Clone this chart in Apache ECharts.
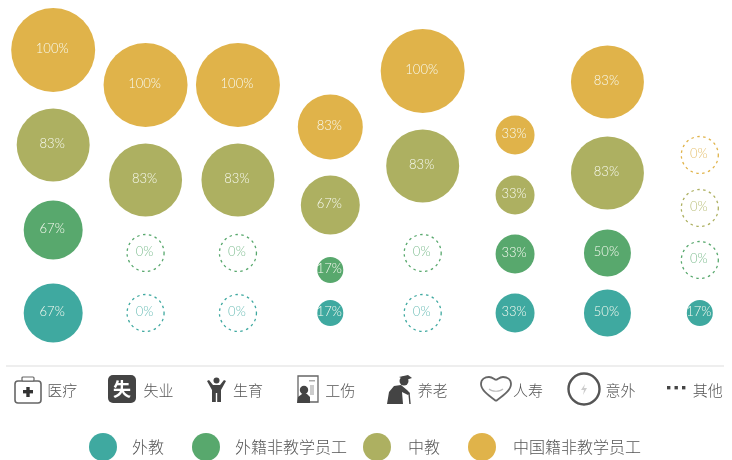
<!DOCTYPE html>
<html>
<head>
<meta charset="utf-8">
<style>html,body{margin:0;padding:0;background:#fff}#c{width:732px;height:460px}</style>
<script src="https://cdn.jsdelivr.net/npm/echarts@6/dist/echarts.min.js"></script>
</head>
<body>
<div id="c"></div>
<script>
// Insurance types
const categories = ['医疗','失业','生育','工伤','养老','人寿','意外','其他'];
// Displayed coverage, percent
const waijiao    = [67, 0, 0, 17, 0, 33, 50, 17];
const waijiFei   = [67, 0, 0, 17, 0, 33, 50, 0];
const zhongjiao  = [83, 83, 83, 67, 83, 33, 83, 0];
const zhongguoFei= [100, 100, 100, 83, 100, 33, 83, 0];
// Bubble magnitude where it differs from the printed label
const zhongguoFeiMagnitude = [100, 100, 100, 75, 100, 33, 83, 0];
// Height of each bubble's centre on the hidden vertical scale
const waijiaoLevel    = [53, 53, 53, 53, 53, 53, 53, 53];
const waijiFeiLevel   = [136, 113, 113, 96, 113, 112, 113, 106];
const zhongjiaoLevel  = [221, 186, 186, 161, 200, 171, 193, 158];
const zhongguoFeiLevel= [316, 281, 281, 239, 295, 231, 284, 211];

const seriesNames = ['外教','外籍非教学员工','中教','中国籍非教学员工'];
const colors = ['#3fa9a0','#58a86d','#adb061','#e0b34a'];
const zeroText = ['#6fbfb8','#82bf93','#bcc07e','#e6c273'];
const sizeOf = {0:37,17:26,33:39,50:47,67:59,75:65,83:73,100:84};

function mk(i, vals, levels, mags) {
  return {
    name: seriesNames[i], type: 'scatter', z: 2 + i,
    symbolSize: d => sizeOf[d[3]],
    data: vals.map((v, k) => {
      const zero = v === 0;
      return {
        value: [categories[k], levels[k], v, mags ? mags[k] : v],
        itemStyle: zero
          ? {color: '#fff', borderColor: colors[i], borderWidth: 1.3, borderType: [2.5, 3.5], opacity: 1}
          : {color: colors[i], opacity: 1},
        label: {color: zero ? zeroText[i] : '#f7faf0'}
      };
    }),
    itemStyle: {color: colors[i], opacity: 1},
    emphasis: {disabled: true},
    label: {
      show: true, position: 'inside', offset: [-1, -1],
      fontFamily: 'Lato', fontSize: 13, fontWeight: 300,
      formatter: p => p.value[2] + '%'
    }
  };
}

const labelShift = [18, 26, 20, 20, 20, 26, 26, 16];
const rich = {};
labelShift.forEach((s, i) => { rich['t' + i] = {padding: [0, 0, 0, s], fontSize: 15, color: '#555', fontFamily: 'Noto Sans CJK SC', fontWeight: 300}; });

const ink = '#444', soft = '#666';
function at(x, y, children) { return {type: 'group', x, y, silent: true, children}; }
function curve(x1,y1,c1x,c1y,c2x,c2y,x2,y2,stroke,lineWidth) {
  return {type:'bezierCurve', shape:{x1,y1,cpx1:c1x,cpy1:c1y,cpx2:c2x,cpy2:c2y,x2,y2}, style:{fill:null,stroke,lineWidth}};
}
const icons = [
  at(14, 376, [
    {type:'rect', shape:{x:1,y:5,width:26,height:22,r:3}, style:{fill:'#fff',stroke:soft,lineWidth:1.6}},
    {type:'rect', shape:{x:8,y:1,width:12,height:4,r:1}, style:{fill:'#fff',stroke:soft,lineWidth:1.2}},
    {type:'rect', shape:{x:9,y:14,width:10,height:3.4}, style:{fill:'#333'}},
    {type:'rect', shape:{x:12.3,y:11,width:3.4,height:10}, style:{fill:'#333'}}
  ]),
  at(108, 375, [
    {type:'rect', shape:{x:0,y:0,width:28,height:28,r:5}, style:{fill:ink}},
    {type:'text', x:14, y:14, style:{text:'失', fill:'#fff', fontSize:18, fontWeight:'bold', fontFamily:'Noto Sans CJK SC', align:'center', verticalAlign:'middle'}}
  ]),
  at(207, 377, [
    {type:'circle', shape:{cx:9.5,cy:3.5,r:3}, style:{fill:ink}},
    {type:'polygon', shape:{points:[[0,4],[2,3],[6,8],[13,8],[17,3],[19,4],[14,13],[14,25],[10.2,25],[10.2,16],[8.8,16],[8.8,25],[5,25],[5,13]]}, style:{fill:ink}}
  ]),
  at(296, 375, [
    {type:'rect', shape:{x:2,y:1,width:20,height:26}, style:{fill:'#fff',stroke:soft,lineWidth:1.3}},
    {type:'rect', shape:{x:13,y:5,width:6,height:1.5}, style:{fill:'#aaa'}},
    {type:'rect', shape:{x:14,y:10,width:4,height:10}, style:{fill:'#ccc'}},
    {type:'circle', shape:{cx:8,cy:15,r:4.2}, style:{fill:ink}},
    {type:'polygon', shape:{points:[[1,28],[2,22],[6,19],[11,19],[14,22],[14,28]]}, style:{fill:ink}}
  ]),
  at(386, 375, [
    {type:'circle', shape:{cx:18,cy:6,r:4.5}, style:{fill:ink}},
    {type:'polygon', shape:{points:[[13,2],[22,0],[26,3],[20,5]]}, style:{fill:ink}},
    {type:'polygon', shape:{points:[[1,29],[3,17],[8,11],[15,10],[21,15],[24,18],[22,20],[16,17],[17,29]]}, style:{fill:ink}},
    {type:'polyline', shape:{points:[[23,18],[24,29]]}, style:{stroke:ink,lineWidth:1.4,fill:null}}
  ]),
  at(480, 376, [
    curve(16,25, 8,19, 1,14, 1,8, soft,1.8),
    curve(1,8, 1,3, 5,1, 9,1, soft,1.8),
    curve(9,1, 12,1, 14,3, 16,4, soft,1.8),
    curve(16,4, 18,3, 20,1, 23,1, soft,1.8),
    curve(23,1, 27,1, 31,3, 31,8, soft,1.8),
    curve(31,8, 31,14, 24,19, 16,25, soft,1.8),
    curve(9,13, 12,16, 20,16, 23,13, '#bbb',1.2)
  ]),
  at(567, 373, [
    {type:'circle', shape:{cx:17,cy:16,r:15.5}, style:{fill:'#fff',stroke:'#555',lineWidth:2.4}},
    {type:'polygon', shape:{points:[[18,11],[14,17],[17,17],[16,22],[20,15],[17,15]]}, style:{fill:'#ccc'}}
  ]),
  at(667, 386, [
    {type:'rect', shape:{x:0,y:0,width:3.4,height:3.4}, style:{fill:ink}},
    {type:'rect', shape:{x:7.5,y:0,width:3.4,height:3.4}, style:{fill:ink}},
    {type:'rect', shape:{x:15,y:0,width:3.4,height:3.4}, style:{fill:ink}}
  ])
];

const legendItem = (i, left, textGap) => ({
  left, top: 428, itemWidth: 28, itemHeight: 28, icon: 'circle',
  selectedMode: false,
  data: [seriesNames[i]],
  textStyle: {fontSize: 16, color: '#555', fontFamily: 'Noto Sans CJK SC', fontWeight: 300, padding: [0, 0, 0, textGap]}
});

const chart = echarts.init(document.getElementById('c'), null, {renderer: 'canvas'});
chart.setOption({
  animation: false,
  backgroundColor: '#fff',
  grid: {left: 7, width: 739, top: 0, height: 366, outerBoundsMode: 'none'},
  xAxis: {
    type: 'category', data: categories,
    axisLine: {show: false}, axisTick: {show: false}, splitLine: {show: false},
    axisLabel: {
      interval: 0, margin: 17, hideOverlap: false,
      formatter: (v, i) => '{t' + i + '|' + v + '}', rich
    }
  },
  yAxis: {type: 'value', min: 0, max: 366, show: false},
  legend: [
    legendItem(0, 84, 10),
    legendItem(1, 187, 10),
    legendItem(2, 358, 12),
    legendItem(3, 463, 12)
  ],
  graphic: [
    {type: 'rect', silent: true, shape: {x: 6, y: 365, width: 718, height: 2}, style: {fill: '#eeeeee'}},
    ...icons
  ],
  series: [
    mk(0, waijiao, waijiaoLevel),
    mk(1, waijiFei, waijiFeiLevel),
    mk(2, zhongjiao, zhongjiaoLevel),
    mk(3, zhongguoFei, zhongguoFeiLevel, zhongguoFeiMagnitude)
  ]
});
</script>
</body>
</html>
